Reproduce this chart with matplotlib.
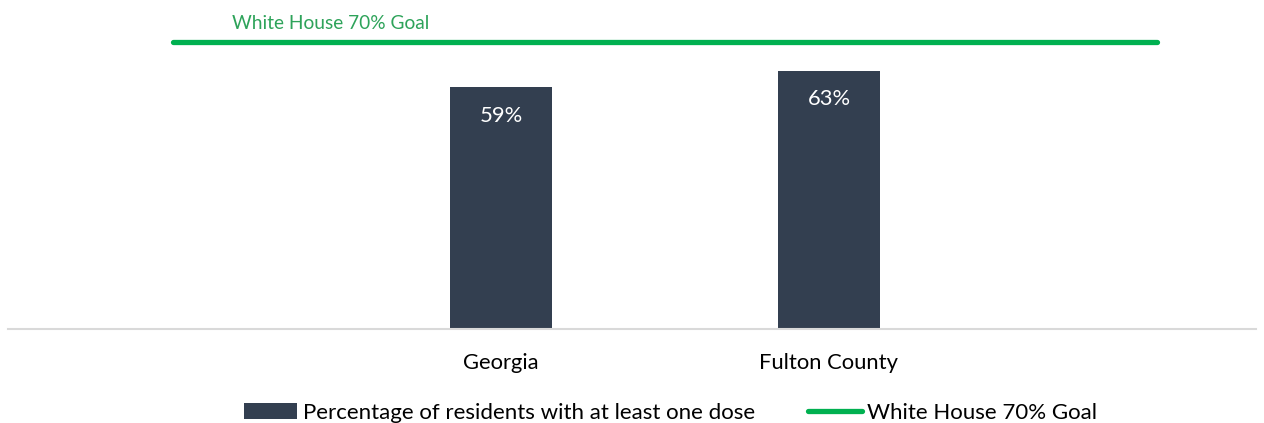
import matplotlib
matplotlib.use("Agg")
import matplotlib.pyplot as plt
from matplotlib.patches import Patch
from matplotlib.lines import Line2D

plt.rcParams['font.family'] = ['Lato', 'DejaVu Sans']

categories = ["Georgia", "Fulton County"]
values = [59, 63]
labels = ["59%", "63%"]
goal = 70
goal_label = "White House 70% Goal"
series_label = "Percentage of residents with at least one dose"

bar_color = "#333F50"
goal_color = "#00B050"

fig = plt.figure(figsize=(12.64, 4.23), dpi=100)
ax = fig.add_axes([8/1264, 94/423, 1248/1264, 328/423])

x = list(range(len(categories)))
ax.bar(x, values, width=0.311, color=bar_color, zorder=2)
for xi, v, lab in zip(x, values, labels):
    ax.text(xi, v - 7.0, lab, ha='center', va='center', color='white', fontsize=15.8)

ax.plot([-1, 2], [goal, goal], color=goal_color, lw=3.8, solid_capstyle='round', zorder=3)
ax.text(-0.82, goal + 4.6, goal_label, ha='left', va='center', color='#2EA35A', fontsize=13.8)

ax.set_xlim(-1.503, 2.302)
ax.set_ylim(0, 80)
ax.set_xticks(x)
ax.set_xticklabels(categories, fontsize=15.8)
ax.tick_params(axis='x', length=0, pad=17)
ax.set_yticks([])
for s in ['top', 'right', 'left']:
    ax.spines[s].set_visible(False)
ax.spines['bottom'].set_color('#D9D9D9')
ax.spines['bottom'].set_linewidth(1.5)

handles = [Patch(facecolor=bar_color, label=series_label),
           Line2D([0], [0], color=goal_color, lw=3.8, solid_capstyle='round', label=goal_label)]
fig.legend(handles=handles, loc='center', bbox_to_anchor=(0.5305, 0.024), ncol=2,
           frameon=False, fontsize=16, handlelength=2.4, handleheight=0.75,
           handletextpad=0.25, columnspacing=2.4)

fig.savefig("out.png", dpi=100)
